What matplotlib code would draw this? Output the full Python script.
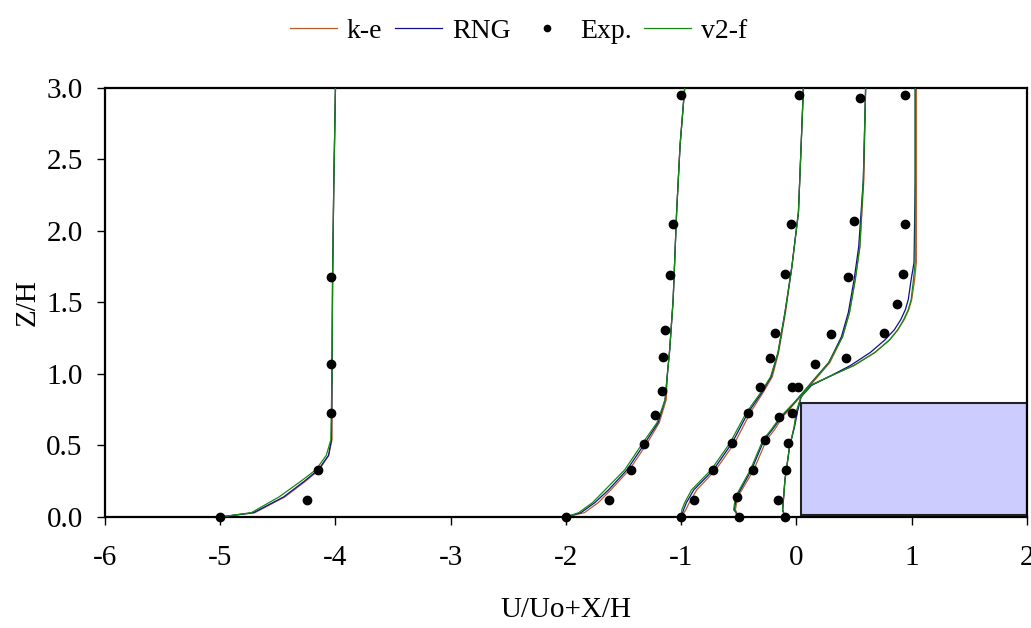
import matplotlib
matplotlib.use("Agg")
import matplotlib.pyplot as plt
from matplotlib.patches import Rectangle

plt.rcParams['font.family'] = ['Liberation Serif', 'DejaVu Serif']

# profil 1 (X/H = -5)
z1 = [0, 0.03, 0.14, 0.25, 0.33, 0.43, 0.54, 1.0, 1.66, 2.3, 3.0]
ke1 = [-5.0, -4.70, -4.44, -4.26, -4.14, -4.06, -4.03, -4.03, -4.025, -4.015, -4.0]
rng1 = [-5.0, -4.71, -4.45, -4.27, -4.15, -4.06, -4.035, -4.03, -4.025, -4.015, -4.0]
v2f1 = [-5.0, -4.73, -4.49, -4.30, -4.17, -4.08, -4.04, -4.03, -4.025, -4.015, -4.0]

# profil 2 (X/H = -2)
z2 = [0, 0.03, 0.10, 0.19, 0.33, 0.51, 0.66, 0.82, 1.0, 1.17, 1.52, 2.13, 2.6, 3.0]
ke2 = [-2.0, -1.84, -1.72, -1.61, -1.45, -1.30, -1.19, -1.13, -1.12, -1.10, -1.07, -1.04, -1.01, -0.97]
rng2 = [-2.0, -1.87, -1.75, -1.63, -1.47, -1.32, -1.20, -1.14, -1.12, -1.10, -1.07, -1.04, -1.01, -0.97]
v2f2 = [-2.0, -1.89, -1.77, -1.66, -1.49, -1.34, -1.21, -1.14, -1.12, -1.10, -1.07, -1.04, -1.01, -0.97]

# profil 3 (X/H = -1)
z3 = [0, 0.05, 0.10, 0.19, 0.33, 0.52, 0.73, 0.87, 0.98, 1.15, 1.43, 1.75, 2.13, 2.59, 3.0]
ke3 = [-1.0, -0.96, -0.93, -0.865, -0.70, -0.535, -0.40, -0.29, -0.21, -0.155, -0.095, -0.04, 0.017, 0.04, 0.06]
rng3 = [-1.0, -0.98, -0.955, -0.89, -0.72, -0.557, -0.42, -0.30, -0.22, -0.16, -0.10, -0.04, 0.017, 0.04, 0.06]
v2f3 = [-1.0, -0.995, -0.97, -0.91, -0.74, -0.575, -0.435, -0.31, -0.225, -0.16, -0.10, -0.04, 0.017, 0.04, 0.06]

# profil 4 (X/H = -0.5)
z4 = [0, 0.05, 0.14, 0.33, 0.54, 0.61, 0.70, 0.80, 0.94, 1.08, 1.26, 1.43, 1.66, 1.89, 2.36, 3.0]
ke4 = [-0.5, -0.53, -0.51, -0.37, -0.26, -0.19, -0.12, -0.01, 0.14, 0.29, 0.40, 0.46, 0.51, 0.55, 0.585, 0.60]
rng4 = [-0.5, -0.54, -0.52, -0.39, -0.28, -0.21, -0.13, -0.017, 0.13, 0.28, 0.39, 0.45, 0.50, 0.54, 0.58, 0.60]
v2f4 = [-0.5, -0.545, -0.53, -0.40, -0.29, -0.22, -0.14, -0.02, 0.13, 0.28, 0.40, 0.46, 0.51, 0.55, 0.58, 0.60]

# profil 5 (X/H = 0)
z5 = [0, 0.05, 0.26, 0.49, 0.63, 0.74, 0.84, 0.92, 0.98, 1.06, 1.15, 1.24, 1.31, 1.38, 1.45, 1.52, 1.66, 1.78, 2.36, 3.0]
ke5 = [-0.1, -0.12, -0.10, -0.06, -0.02, 0.0, 0.04, 0.12, 0.28, 0.50, 0.68, 0.81, 0.88, 0.935, 0.975, 1.00, 1.025, 1.04, 1.04, 1.04]
rng5 = [-0.1, -0.12, -0.10, -0.06, -0.017, 0.01, 0.04, 0.13, 0.28, 0.47, 0.64, 0.77, 0.85, 0.905, 0.945, 0.97, 0.995, 1.02, 1.03, 1.03]
v2f5 = [-0.1, -0.12, -0.10, -0.06, -0.02, 0.0, 0.04, 0.12, 0.28, 0.50, 0.68, 0.81, 0.88, 0.93, 0.97, 0.995, 1.015, 1.03, 1.03, 1.03]

# deney verileri
exp_x = [-5.0, -4.25, -4.15, -4.04, -4.04, -4.035,
         -2.0, -1.63, -1.44, -1.32, -1.23, -1.17, -1.16, -1.14, -1.10, -1.07, -1.0,
         -1.0, -0.89, -0.72, -0.557, -0.42, -0.32, -0.23, -0.19, -0.096, -0.05, 0.024,
         -0.5, -0.52, -0.38, -0.27, -0.15, -0.035, 0.009, 0.16, 0.30, 0.45, 0.50, 0.55,
         -0.1, -0.16, -0.09, -0.07, -0.04, 0.43, 0.76, 0.87, 0.92, 0.94, 0.94]
exp_z = [0.0, 0.12, 0.33, 0.73, 1.07, 1.68,
         0.0, 0.12, 0.33, 0.51, 0.71, 0.88, 1.12, 1.31, 1.69, 2.05, 2.95,
         0.0, 0.12, 0.33, 0.52, 0.73, 0.91, 1.11, 1.29, 1.70, 2.05, 2.95,
         0.0, 0.14, 0.33, 0.54, 0.70, 0.91, 0.91, 1.07, 1.28, 1.68, 2.07, 2.93,
         0.0, 0.12, 0.33, 0.52, 0.73, 1.11, 1.29, 1.49, 1.70, 2.05, 2.95]

# engel (blok)
blok_x = 0.035
blok_z = 0.015
blok_w = 2.0 - 0.035
blok_h = 0.80 - 0.015

profiller = [(z1, ke1, rng1, v2f1), (z2, ke2, rng2, v2f2), (z3, ke3, rng3, v2f3),
             (z4, ke4, rng4, v2f4), (z5, ke5, rng5, v2f5)]

fig = plt.figure(figsize=(10.31, 6.28), dpi=100)
ax = fig.add_axes([0.1018, 0.1768, 0.8943, 0.6831])

ax.add_patch(Rectangle((blok_x, blok_z), blok_w, blok_h, facecolor='#CCCCFF',
                       edgecolor='#222222', linewidth=1.5, zorder=1))

for i, (z, ke, rng, v2f) in enumerate(profiller):
    ax.plot(ke, z, color='#B85C2E', lw=0.9, label='k-e' if i == 0 else None, zorder=2)
    ax.plot(rng, z, color='#10108A', lw=0.9, label='RNG' if i == 0 else None, zorder=3)
    if i == 0:
        ax.plot([], [], 'o', color='black', ms=4.5, label='Exp.')
    ax.plot(v2f, z, color='#138A13', lw=0.9, label='v2-f' if i == 0 else None, zorder=4)

ax.plot(exp_x, exp_z, 'o', color='black', ms=6, zorder=5, clip_on=False)

ax.set_xlim(-6, 2)
ax.set_ylim(0, 3)
ax.set_xticks([-6, -5, -4, -3, -2, -1, 0, 1, 2])
ax.set_xticklabels(['-6', '-5', '-4', '-3', '-2', '-1', '0', '1', '2'])
ax.set_yticks([0, 0.5, 1.0, 1.5, 2.0, 2.5, 3.0])
ax.set_yticklabels(['0.0', '0.5', '1.0', '1.5', '2.0', '2.5', '3.0'])
ax.tick_params(axis='x', direction='out', length=6, width=1, pad=14, labelsize=21)
ax.tick_params(axis='y', direction='out', length=6, width=1, pad=10, labelsize=21)
for s in ax.spines.values():
    s.set_linewidth(1.6)
    s.set_color('black')

ax.set_xlabel('U/Uo+X/H', fontsize=21, labelpad=19)
ax.set_ylabel('Z/H', fontsize=21, labelpad=4)

fig.legend(loc='upper center', bbox_to_anchor=(0.503, 1.01), ncol=4, frameon=False,
           fontsize=20, handlelength=1.7, handletextpad=0.35, columnspacing=0.45)

plt.savefig('out.png', dpi=100)
